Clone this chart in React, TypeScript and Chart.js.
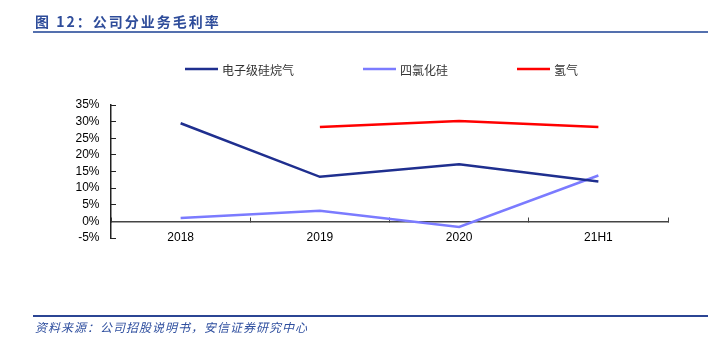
import React, { useEffect, useRef } from "react";
import { Chart, registerables } from "chart.js";

Chart.register(...registerables);

const categories = ["2018", "2019", "2020", "21H1"];
const seriesNames = ["电子级硅烷气", "四氯化硅", "氢气"];
const silaneValues = [29.5, 13.4, 17.2, 12.0];
const sicl4Values = [1.0, 3.2, -1.7, 13.8];
const hydrogenValues = [null, 28.4, 30.2, 28.4];
const seriesColors = ["#1F2F8F", "#7B7BFF", "#FF0000"];
const yMin = -5;
const yMax = 35;
const yStep = 5;
const titleText = "图 12：公司分业务毛利率";
const sourceText = "资料来源：公司招股说明书，安信证券研究中心";

const legendPlugin = {
  id: "customLegend",
  afterDraw(chart: any) {
    const ctx = chart.ctx;
    const y = 69;
    const lineW = 33;
    const gap = 4;
    const spacing = 69;
    ctx.save();
    ctx.font = "12px 'Noto Sans CJK SC', sans-serif";
    const items = chart.data.datasets.map((ds: any) => ({
      label: ds.label,
      color: ds.borderColor,
      w: lineW + gap + ctx.measureText(ds.label).width,
    }));
    const total =
      items.reduce((a: number, b: any) => a + b.w, 0) + spacing * (items.length - 1);
    let x = (chart.chartArea.left + chart.chartArea.right) / 2 - total / 2 - 8;
    for (const it of items) {
      ctx.strokeStyle = it.color;
      ctx.lineWidth = 2.5;
      ctx.beginPath();
      ctx.moveTo(x, y);
      ctx.lineTo(x + lineW, y);
      ctx.stroke();
      ctx.fillStyle = "#333333";
      ctx.textBaseline = "middle";
      ctx.textAlign = "left";
      ctx.fillText(it.label, x + lineW + gap, y + 1);
      x += it.w + spacing;
    }
    ctx.restore();
  },
};

export default function App() {
  const canvasRef = useRef<HTMLCanvasElement | null>(null);

  useEffect(() => {
    const canvas = canvasRef.current;
    if (!canvas) return;
    const tickFont = { family: "'Liberation Sans', Arial, sans-serif", size: 12 };
    const chart = new Chart(canvas, {
      type: "line",
      data: {
        labels: categories,
        datasets: [
          { label: seriesNames[0], data: silaneValues, borderColor: seriesColors[0], backgroundColor: seriesColors[0] },
          { label: seriesNames[1], data: sicl4Values, borderColor: seriesColors[1], backgroundColor: seriesColors[1] },
          { label: seriesNames[2], data: hydrogenValues as any, borderColor: seriesColors[2], backgroundColor: seriesColors[2] },
        ],
      },
      options: {
        animation: false,
        responsive: false,
        maintainAspectRatio: false,
        devicePixelRatio: 1,
        layout: { padding: { top: 105, bottom: 100, left: 0, right: 56 } },
        elements: {
          line: { borderWidth: 2.5, tension: 0 },
          point: { radius: 0, hoverRadius: 0 },
        },
        plugins: {
          legend: { display: false },
          tooltip: { enabled: false },
          title: { display: false },
        },
        scales: {
          x: {
            type: "category",
            position: { y: 0 } as any,
            offset: true,
            afterFit: (s: any) => {
              s.height = 0;
            },
            grid: {
              offset: true,
              drawOnChartArea: false,
              drawTicks: true,
              tickLength: -5,
              color: "#444444",
              lineWidth: 1,
            },
            border: { display: true, color: "#444444", width: 1.5 },
            ticks: { color: "#000000", font: tickFont, padding: 14, maxRotation: 0, autoSkip: false },
          },
          y: {
            position: "left",
            min: yMin,
            max: yMax,
            afterFit: (s: any) => {
              s.width = 111;
            },
            grid: {
              drawOnChartArea: false,
              drawTicks: true,
              tickLength: -5,
              color: "#222222",
              lineWidth: 1,
            },
            border: { display: true, color: "#222222", width: 1.5 },
            ticks: {
              stepSize: yStep,
              autoSkip: false,
              color: "#000000",
              font: tickFont,
              padding: 16.5,
              callback: (v: any) => `${v}%`,
            },
          },
        },
      },
      plugins: [legendPlugin],
    });
    return () => chart.destroy();
  }, []);

  return (
    <div style={{ position: "absolute", left: 0, top: 0, width: 724, height: 338, background: "#ffffff", overflow: "hidden" }}>
      <canvas ref={canvasRef} width={724} height={338} style={{ position: "absolute", left: 0, top: 0, width: 724, height: 338 }} />
      <div
        style={{
          position: "absolute",
          left: 35,
          top: 12,
          height: 18,
          lineHeight: "18px",
          fontSize: 14,
          fontWeight: "bold",
          letterSpacing: 2,
          color: "#2E4C9A",
          fontFamily: "'Noto Sans CJK SC', sans-serif",
          whiteSpace: "nowrap",
        }}
      >
        {titleText}
      </div>
      <div style={{ position: "absolute", left: 33, top: 31, width: 675, height: 2, background: "#5470AE" }} />
      <div style={{ position: "absolute", left: 33, top: 315, width: 675, height: 2, background: "#2B4594" }} />
      <div
        style={{
          position: "absolute",
          left: 35,
          top: 320,
          height: 14,
          lineHeight: "14px",
          fontSize: 12,
          fontStyle: "italic",
          letterSpacing: 1,
          color: "#2F4F9F",
          fontFamily: "'Noto Sans CJK SC', sans-serif",
          whiteSpace: "nowrap",
        }}
      >
        {sourceText}
      </div>
    </div>
  );
}
